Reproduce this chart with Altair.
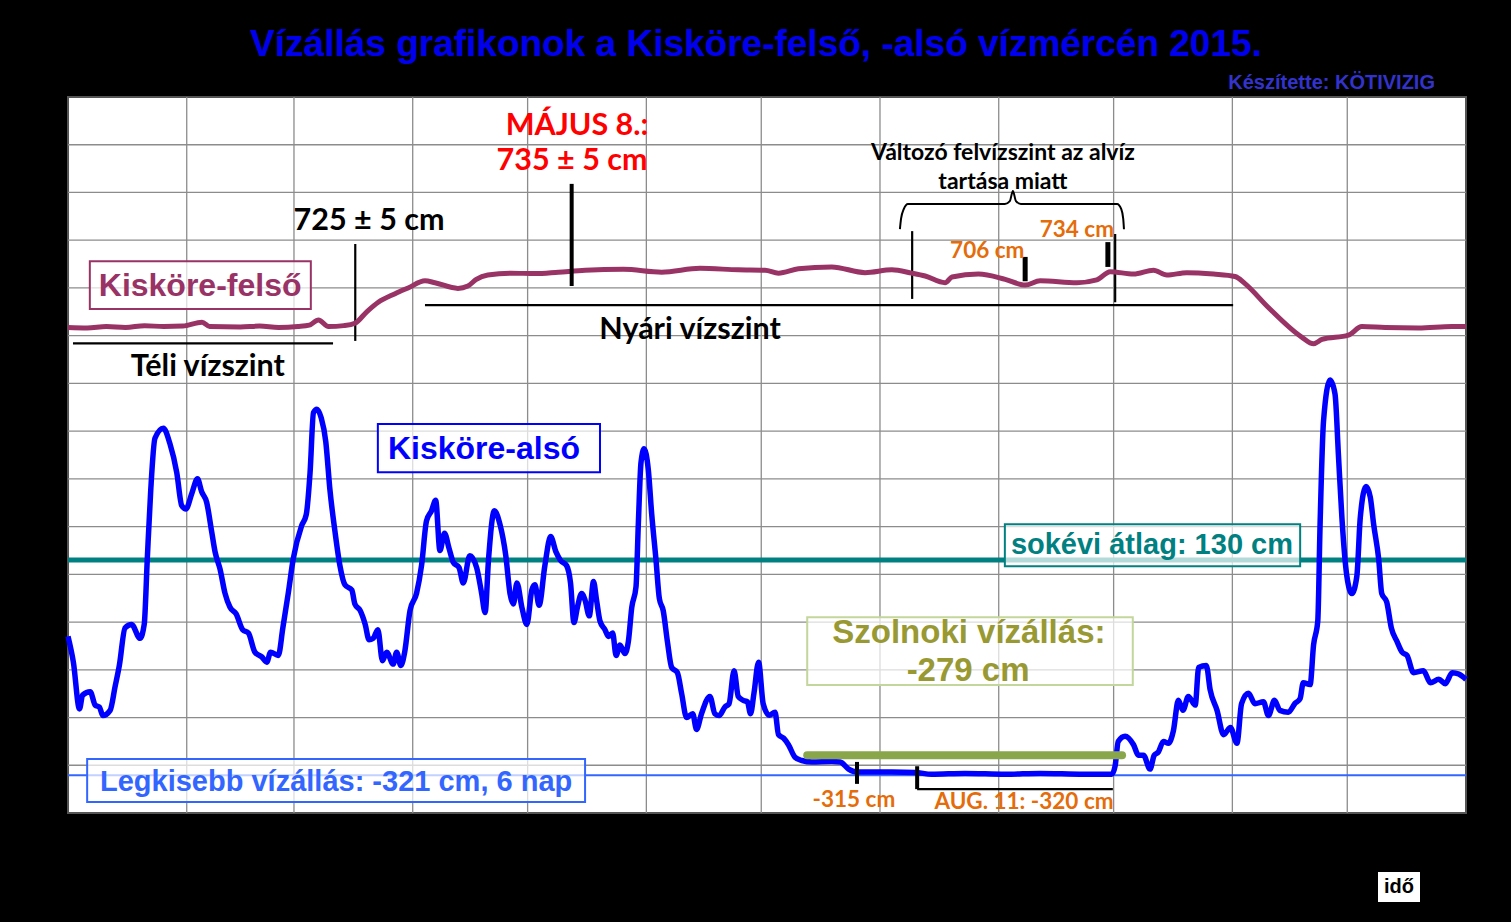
import altair as alt
import pandas as pd

# ---------------- data (day of year 2015, water level in cm) ----------------
also_day = [0, 1.4, 3.0, 3.8, 5.8, 7.1, 8.2, 9.1, 11, 12.3, 13.4, 14.9, 16.6, 18.8, 19.9, 20.7, 21.6, 22.7, 24.9,
            26.6, 28.4, 29.7, 30.8, 32.3, 33.8, 34.9, 36.2, 37.5, 38.4, 39.7, 41, 42.3, 43.9, 45.6, 47.1, 48.8, 50.6,
            51.9, 52.9, 54.9, 56.1, 57.5, 58.8, 61, 62.2, 63.2, 64.1, 65, 66.1, 67.3, 68.4, 69.7, 71, 72.3, 74.1, 74.9,
            76.3, 77.6, 78.6, 79.7, 80.9, 82.1, 83.2, 84.9, 85.8, 86.9, 87.9, 89.3, 91, 92.3, 93.6, 94.9, 96, 97.1,
            98.3, 99.5, 100.6, 102.1, 103.2, 104.9, 106.7, 108, 108.9, 109.8, 111.3, 112.8, 114.3, 115.4, 116.3, 117.2,
            118.5, 119.8, 121.1, 121.9, 123, 124.5, 126, 127.4, 128.6, 130.2, 131.2, 132.1, 133, 134.1, 135, 136.1,
            137.2, 138, 138.9, 140.2, 141.1, 142.2, 143.1, 144.1, 145.4, 146.3, 147.2, 148.3, 148.9, 149.6, 150.4,
            151.5, 152.4, 153.5, 154.4, 155.4, 156.5, 157.6, 159.1, 160.2, 161.5, 163.1, 164.1, 165.4, 167.6, 168.9,
            170, 171.5, 172.6, 173.9, 175, 176.3, 177.4, 178.2, 179.1, 180.3, 181.5, 183.1, 184.6, 185.5, 186.8, 188.1,
            189.8, 191.6, 194.2, 199.4, 201.6, 203.8, 205.9, 209.9, 215.1, 221.2, 225.5, 234.2, 244.7, 253.8, 265.1,
            272.5, 273.4, 274.2, 276, 278.2, 279.5, 280.8, 282.5, 283.6, 284.7, 286, 287.3, 288.6, 289.9, 291.1, 292.5,
            294.3, 295.2, 297.2, 298.2, 300, 301.7, 303.5, 305.2, 306.4, 308.2, 309.9, 312.1, 313.4, 315, 316.4, 318.6,
            320.3, 321.7, 322.5, 324.3, 325.2, 326.3, 326.9, 327.8, 329.5, 330.8, 331.7, 332.6, 333.9, 335.2, 336.5,
            337.4, 338.9, 340, 340.9, 342.2, 343, 344.3, 345.5, 347, 348.3, 349.6, 351.3, 353.9, 355.7, 357.9, 359.6,
            361.4, 363.1, 365]
also_cm = [-30, -84, -182, -153, -146, -174, -178, -196, -185, -135, -91, -12, -5, -34, -5, 132, 276, 385, 406,
           374, 313, 244, 237, 269, 300, 273, 251, 190, 147, 111, 60, 31, 17, -16, -23, -63, -73,
           -84, -63, -70, -12, 60, 132, 202, 225, 313, 439, 446, 428, 378, 276, 190, 118, 78, 67, 38,
           24, -5, -37, -34, -16, -81, -63, -88, -63, -91, -63, 24, 60, 118, 212, 233, 255, 150,
           186, 154, 125, 114, 82, 139, 114, 60, 20, 132, 233, 204, 139, 60, 38, 82,
           31, -5, 67, 78, 35, 118, 179, 147, 129, 118, 82, -1, 31, 60, 46, 13,
           85, 46, 2, -16, -30, -23, -70, -48, -66, -41, 31, 74, 204, 334, 363,
           320, 226, 132, 49, 24, -41, -95, -106, -149, -200, -192, -225, -192, -156, -192,
           -196, -178, -171, -102, -156, -164, -167, -192, -149, -84, -171, -195, -189, -236, -243, -257,
           -283, -290, -293, -292, -293, -308, -314, -314, -314, -315, -319, -317, -319, -317, -319,
           -319, -301, -250, -239, -257, -279, -279, -308, -279, -272, -250, -254, -228, -164, -185, -156,
           -174, -95, -91, -142, -185, -236, -221, -254, -171, -149, -171, -167, -196, -164, -185, -189,
           -171, -160, -127, -131, -48, 2, 204, 421, 507, 478, 349, 219, 96, 60, 96,
           219, 284, 262, 204, 132, 60, 42, -12, -41, -63, -70, -106, -102, -127, -120, -129,
           -106, -109, -120]

felso_day = [0, 5, 10, 15, 20, 25, 30, 35, 37, 45, 50, 55, 60, 63, 65.4, 68, 72, 74.9, 78, 81, 85.4, 88.8, 93.2,
             95.8, 101.8, 104.4, 106.6, 109.6, 115.7, 122, 128, 135, 145, 155, 165, 175, 182, 185.5, 190.7, 199.4,
             208.1, 215.1, 220.3, 223.8, 229, 230.8, 237.7, 244.7, 249.9, 253.8, 263.4, 268.6, 272.1, 278.2, 283.4,
             286.9, 292.1, 299.1, 304.7, 307.3, 313.4, 322.1, 325.2, 327.4, 334.3, 337.8, 343.9, 352.6, 361.3, 365]
felso_cm = [617, 616, 619, 617, 621, 619, 620, 628, 619, 618, 620, 617, 619, 622, 633, 619, 621, 626, 650, 670, 688,
            700, 715, 711, 699, 704, 718, 727, 731, 730, 733, 737, 739, 733, 741, 738, 737, 731, 740, 744,
            732, 738, 731, 725, 711, 723, 729, 718, 706, 715, 711, 717, 734, 729, 737,
            727, 732, 729, 724, 709, 659, 597, 583, 592, 601, 619, 617, 616, 619, 619]

month_bounds = [31, 59, 90, 120, 151, 181, 212, 243, 273, 304, 334]
level_ticks = list(range(-300, 1001, 100))
atlag_cm = 130
legkisebb_cm = -321
szolnok_cm = -279

W, H = 1398, 716
xs = alt.Scale(domain=[0, 365], nice=False, zero=False)
ys = alt.Scale(domain=[-400, 1100], nice=False, zero=False)

ARIAL = "Liberation Sans"
CALIBRI = "Lato"


def X(f="day"):
    return alt.X(f"{f}:Q", scale=xs, axis=None)


def Y(f="cm"):
    return alt.Y(f"{f}:Q", scale=ys, axis=None)


also_df = pd.DataFrame({"day": also_day, "cm": also_cm})
felso_df = pd.DataFrame({"day": felso_day, "cm": felso_cm})

# grid lines (drawn as rules through the scales)
vgrid = alt.Chart(pd.DataFrame({"day": month_bounds})).mark_rule(color="#8c8c8c", strokeWidth=1.3).encode(x=X())
hgrid = alt.Chart(pd.DataFrame({"cm": level_ticks})).mark_rule(color="#8c8c8c", strokeWidth=1.3).encode(y=Y())


def seg(rows, color="black", width=2, cap="butt"):
    df = pd.DataFrame(rows, columns=["day", "day2", "cm", "cm2"])
    return alt.Chart(df).mark_rule(color=color, strokeWidth=width, strokeCap=cap).encode(
        x=X(), x2="day2:Q", y=Y(), y2="cm2:Q")


def box(d1, d2, c1, c2, stroke, width=2, op=0.7):
    df = pd.DataFrame({"day": [d1], "day2": [d2], "cm": [c1], "cm2": [c2]})
    return alt.Chart(df).mark_rect(fill="white", fillOpacity=op, stroke=stroke, strokeWidth=width).encode(
        x=X(), x2="day2:Q", y=Y(), y2="cm2:Q")


def txt(rows, color, size, font, weight="bold", align="center"):
    df = pd.DataFrame(rows, columns=["day", "cm", "label"])
    return alt.Chart(df).mark_text(color=color, fontSize=size, font=font, fontWeight=weight, align=align,
                                   baseline="middle").encode(x=X(), y=Y(), text="label:N")


def ptxt(px, py, label, color, size, font, align="center"):
    df = pd.DataFrame({"label": [label]})
    return alt.Chart(df).mark_text(color=color, fontSize=size, font=font, fontWeight="bold", align=align,
                                   baseline="middle").encode(x=alt.value(px), y=alt.value(py), text="label:N")


teal = seg([(0, 365, atlag_cm, atlag_cm)], color="#008080", width=5)
minline = seg([(0, 365, legkisebb_cm, legkisebb_cm)], color="#3366ff", width=2)

black_lines = seg([
    (1.3, 69.2, 584, 584),        # téli vízszint
    (93.2, 304.2, 664, 664),      # nyári vízszint
    (75, 75, 792, 589),           # 725 cm marker
    (220.4, 220.4, 819, 677),
    (273.4, 273.4, 813, 670),
    (221.7, 272.8, -350, -350),
], width=2.2)
thick_marks = seg([
    (131.5, 131.5, 918, 704),
    (206, 206, -293, -339),
    (221.7, 221.7, -302, -350),
], width=4)
short_marks = seg([
    (249.9, 249.9, 765, 714),
    (271.5, 271.5, 796, 744),
], width=5)

brace_df = pd.DataFrame({
    "day": [217.2, 217.5, 218.2, 219.3, 244.6, 245.9, 246.7, 247.5, 248.8, 273.9, 275.0, 275.5, 275.7],
    "cm": [823, 845, 865, 876, 876, 882, 903, 882, 876, 876, 865, 845, 823],
})
brace = alt.Chart(brace_df).mark_line(color="black", strokeWidth=2, interpolate="monotone").encode(
    x=X(), y=Y(), order="day:Q")

felso_line = alt.Chart(felso_df).mark_line(color="#993366", strokeWidth=5, interpolate="monotone").encode(
    x=X(), y=Y())
also_line = alt.Chart(also_df).mark_line(color="#0000ff", strokeWidth=5.5, interpolate="monotone").encode(
    x=X(), y=Y())

olive = seg([(193, 275.2, szolnok_cm, szolnok_cm)], color="#8aa64b", width=8, cap="round")

boxes = [
    box(5.7, 63.4, 756, 656, "#993366"),
    box(80.9, 138.9, 415, 314, "#0000ff"),
    box(244.6, 321.7, 205, 117, "#008080"),
    box(193, 278, 10, -132, "#c3d69b"),
    box(5, 135, -287, -377, "#3366ff"),
]

texts = [
    txt([(34.5, 704, "Kisköre-felső")], "#993366", 32, ARIAL),
    txt([(108.6, 362, "Kisköre-alsó")], "#0000ff", 32, ARIAL),
    txt([(283, 161, "sokévi átlag: 130 cm")], "#008080", 29, ARIAL),
    txt([(235.2, -23, "Szolnoki vízállás:"), (235, -103, "-279 cm")], "#999933", 33, ARIAL),
    txt([(70, -335, "Legkisebb vízállás: -321 cm, 6 nap")], "#3366ff", 29, ARIAL),
    txt([(36.5, 534, "Téli vízszint"), (78.6, 840, "725 ± 5 cm"), (162.4, 612, "Nyári vízszint")],
        "black", 30.5, CALIBRI),
    txt([(132.9, 1039, "MÁJUS 8.:"), (131.6, 966, "735 ± 5 cm")], "#ff0000", 30.5, CALIBRI),
    txt([(244.1, 983, "Változó felvízszint az alvíz"), (244.1, 922, "tartása miatt")], "black", 23, CALIBRI),
    txt([(240, 777, "706 cm"), (263.4, 821, "734 cm"), (205.2, -373, "-315 cm"),
         (249.6, -377, "AUG. 11: -320 cm")], "#e46c0a", 22.5, CALIBRI),
]

ido_box = alt.Chart(pd.DataFrame({"a": [0]})).mark_rect(fill="white").encode(
    x=alt.value(1310), x2=alt.value(1352), y=alt.value(775), y2=alt.value(805))

title = ptxt(688, -52, "Vízállás grafikonok a Kisköre-felső, -alsó vízmércén 2015.", "#0000ee", 37, ARIAL)
credit = ptxt(1367, -14, "Készítette: KÖTIVIZIG", "#3333cc", 20, ARIAL, align="right")
ido = ptxt(1331, 790, "idő", "black", 20, ARIAL)

chart = alt.layer(
    vgrid, hgrid, black_lines, brace, felso_line, teal, minline, also_line, olive, thick_marks, short_marks,
    *boxes, *texts, ido_box, ido, title, credit,
).properties(
    width=W, height=H,
    autosize=alt.AutoSizeParams(type="none"),
    padding={"left": 68, "top": 97, "right": 45, "bottom": 109},
    background="black",
).configure_view(fill="white", stroke="#555555", strokeWidth=2)

chart.save("out.html", embed_options={"renderer": "svg", "actions": False})
